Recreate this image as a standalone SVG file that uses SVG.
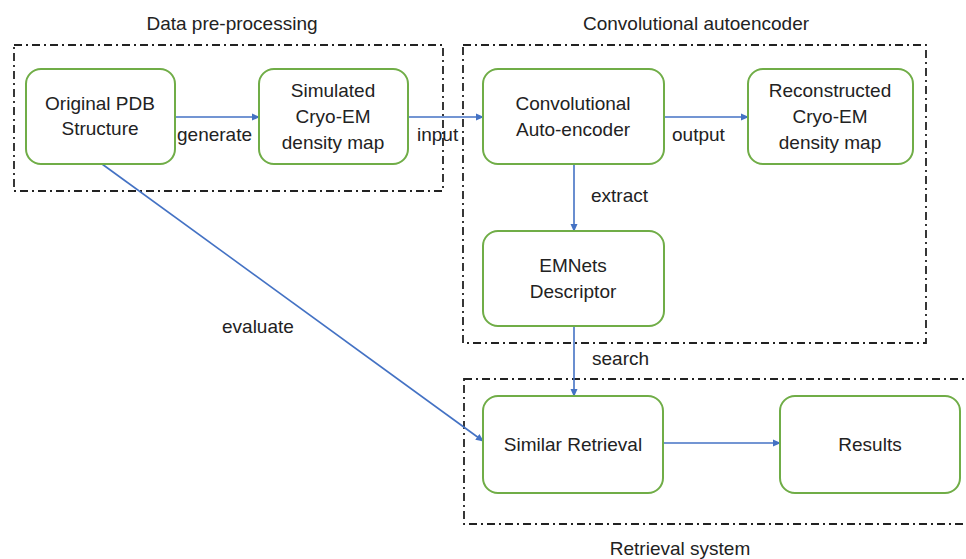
<svg xmlns="http://www.w3.org/2000/svg" width="966" height="559" viewBox="0 0 966 559">
<style>
.grp{fill:none;stroke:#222;stroke-width:1.8;stroke-dasharray:8 4 2 4}
.node rect{fill:#fff;stroke:#70AD47;stroke-width:2}
text{font-family:"Liberation Sans",Arial,sans-serif;font-size:19px;fill:#222}
.c{text-anchor:middle}
.conn line{stroke:#4472C4;stroke-width:1.6;fill:none;marker-end:url(#ah)}
</style>
<defs>
<marker id="ah" markerWidth="8" markerHeight="8" refX="7" refY="4" orient="auto" markerUnits="userSpaceOnUse">
<path d="M0,0.5 L8,4 L0,7.5 Z" fill="#4472C4"/>
</marker>
</defs>
<rect width="966" height="559" fill="#fff"/>
<g id="groups">
<rect class="grp" x="14" y="45" width="429" height="146"/>
<rect class="grp" x="463" y="45" width="463" height="298"/>
<rect class="grp" x="464" y="379" width="510" height="145"/>
<text class="c" x="232" y="30">Data pre-processing</text>
<text class="c" x="696" y="30">Convolutional autoencoder</text>
<text class="c" x="680" y="555">Retrieval system</text>
</g>
<g id="connectors" class="conn">
<line x1="175" y1="117" x2="259" y2="117"/>
<line x1="408" y1="117" x2="483" y2="117"/>
<line x1="664" y1="117" x2="748" y2="117"/>
<line x1="574" y1="164" x2="574" y2="231"/>
<line x1="574" y1="326" x2="574" y2="396"/>
<line x1="663" y1="443" x2="780" y2="443"/>
<line x1="102" y1="164" x2="483" y2="441"/>
<text x="177" y="141">generate</text>
<text x="417" y="141">input</text>
<text x="672" y="141">output</text>
<text x="591" y="202">extract</text>
<text x="592" y="365">search</text>
<text x="222" y="333">evaluate</text>
</g>
<g id="n-pdb" class="node">
<rect x="26" y="69" width="149" height="95" rx="15"/>
<text class="c" x="100" y="110">Original PDB</text>
<text class="c" x="100" y="135">Structure</text>
</g>
<g id="n-sim" class="node">
<rect x="259" y="69" width="149" height="95" rx="15"/>
<text class="c" x="333" y="97">Simulated</text>
<text class="c" x="333" y="123">Cryo-EM</text>
<text class="c" x="333" y="149">density map</text>
</g>
<g id="n-cae" class="node">
<rect x="483" y="69" width="181" height="95" rx="15"/>
<text class="c" x="573" y="110">Convolutional</text>
<text class="c" x="573" y="136">Auto-encoder</text>
</g>
<g id="n-rec" class="node">
<rect x="748" y="69" width="165" height="95" rx="15"/>
<text class="c" x="830" y="97">Reconstructed</text>
<text class="c" x="830" y="123">Cryo-EM</text>
<text class="c" x="830" y="149">density map</text>
</g>
<g id="n-emn" class="node">
<rect x="483" y="231" width="181" height="95" rx="15"/>
<text class="c" x="573" y="272">EMNets</text>
<text class="c" x="573" y="298">Descriptor</text>
</g>
<g id="n-sim-ret" class="node">
<rect x="483" y="396" width="180" height="97" rx="15"/>
<text class="c" x="573" y="451">Similar Retrieval</text>
</g>
<g id="n-res" class="node">
<rect x="780" y="396" width="180" height="97" rx="15"/>
<text class="c" x="870" y="451">Results</text>
</g>
</svg>
